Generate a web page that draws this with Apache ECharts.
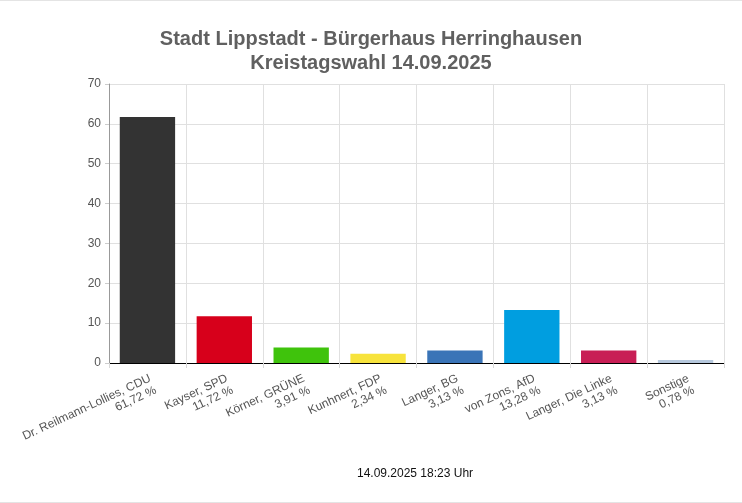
<!DOCTYPE html>
<html><head><meta charset="utf-8">
<script src="https://cdn.jsdelivr.net/npm/echarts@6/dist/echarts.min.js"></script>
<style>html,body{margin:0;padding:0;background:#fff}#c{width:742px;height:503px}</style>
</head><body><div id="c"></div>
<script>
const categories = ["Dr. Reilmann-Lollies, CDU","Kayser, SPD","Körner, GRÜNE","Kunhnert, FDP","Langer, BG","von Zons, AfD","Langer, Die Linke","Sonstige"];
const values = [61.72, 11.72, 3.91, 2.34, 3.13, 13.28, 3.13, 0.78];
const colors = ["#333333","#d7001b","#3fc30c","#f7e33c","#3a74b7","#009ee0","#c81e55","#b6c8dd"];
const yTicks = [0,10,20,30,40,50,60,70];
const titleText = "Stadt Lippstadt - Bürgerhaus Herringhausen\nKreistagswahl 14.09.2025";
const footerText = "14.09.2025 18:23 Uhr";

const fmt = v => v.toFixed(2).replace('.', ',') + ' %';
const chart = echarts.init(document.getElementById('c'), null, {renderer:'canvas'});
chart.setOption({
  animation:false,
  backgroundColor:'#fff',
  graphic:[
    {type:'line', shape:{x1:0,y1:0.5,x2:742,y2:0.5}, style:{stroke:'#e4e4e4', lineWidth:1}, silent:true},
    {type:'line', shape:{x1:0,y1:502.5,x2:742,y2:502.5}, style:{stroke:'#e4e4e4', lineWidth:1}, silent:true}
  ],
  title:[{
    text:titleText, left:'center', top:22,
    textStyle:{fontFamily:'Liberation Sans, Arial', fontSize:20, fontWeight:'bold', color:'#606060', lineHeight:24}
  },{
    text:footerText, left:410, textAlign:'center', top:463,
    textStyle:{fontFamily:'Liberation Sans, Arial', fontSize:12, fontWeight:'normal', color:'#111'}
  }],
  grid:{left:109, right:18, top:84, bottom:140, containLabel:false},
  xAxis:{
    type:'category', data:categories.map((c,i)=>c+'\n'+fmt(values[i])),
    boundaryGap:true,
    axisLine:{show:true, lineStyle:{color:'#000', width:1}},
    axisTick:{show:true, length:5, lineStyle:{color:'#d8d8d8'}},
    splitLine:{show:true, lineStyle:{color:'#e0e0e0'}},
    axisLabel:{rotate:25, interval:0, margin:9, verticalAlign:'top', align:'right', fontFamily:'Liberation Sans, Arial', fontSize:12, color:'#555', lineHeight:13}
  },
  yAxis:{
    type:'value', min:yTicks[0], max:yTicks[yTicks.length-1], interval:10,
    axisLine:{show:true, lineStyle:{color:'#999'}},
    axisTick:{show:true, length:4, lineStyle:{color:'#ccc'}},
    splitLine:{show:true, lineStyle:{color:'#e0e0e0'}},
    axisLabel:{fontFamily:'Liberation Sans, Arial', fontSize:12, color:'#555', margin:8}
  },
  series:[{
    type:'bar', barWidth:'72%',
    data:values.map((v,i)=>({value:v, itemStyle:{color:colors[i]}}))
  }]
});
</script></body></html>
